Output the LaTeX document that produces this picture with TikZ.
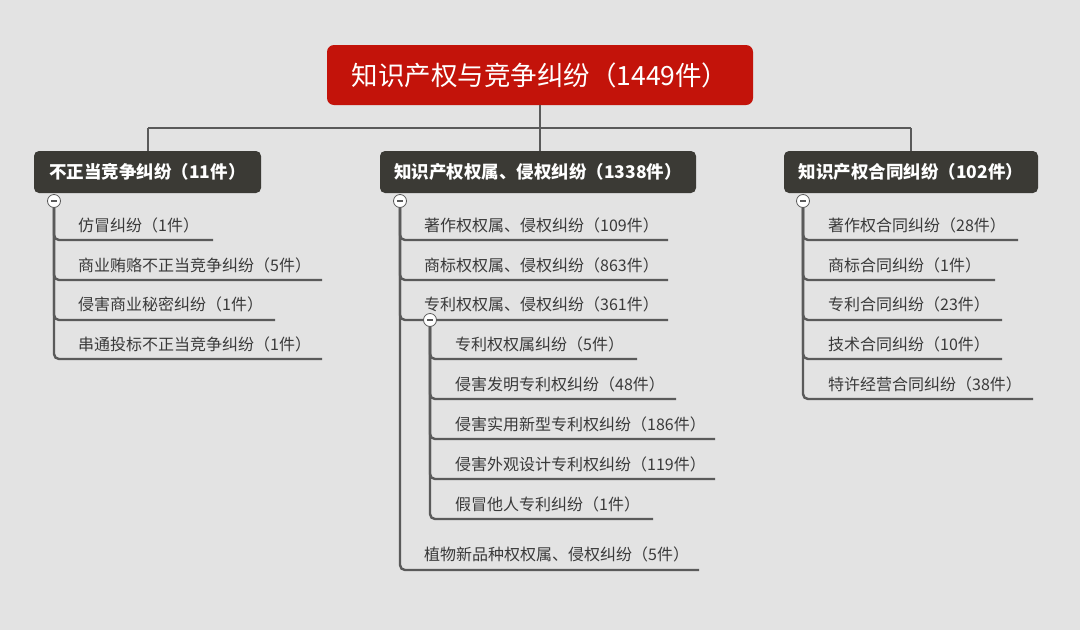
\documentclass[tikz,border=0pt]{standalone}
\usepackage{fontspec}
\setmainfont{Noto Sans CJK SC}
\definecolor{bgc}{HTML}{E3E3E3}
\definecolor{rootred}{HTML}{C3130A}
\definecolor{catdark}{HTML}{3B3A35}
\definecolor{linec}{HTML}{5A5A5A}
\definecolor{leaftext}{HTML}{3A3A3A}
\begin{document}
\begin{tikzpicture}[x=1pt,y=-1pt,
  conn/.style={draw=linec,line width=2.4pt,rounded corners=5pt},
  rootbox/.style={fill=rootred,rounded corners=7pt,minimum width=426pt,minimum height=60pt,text=white,font=\fontsize{26.5}{30}\selectfont,inner sep=0pt},
  catbox/.style={fill=catdark,rounded corners=5pt,minimum height=42pt,text=white,font=\bfseries\fontsize{17.5}{20}\selectfont,inner sep=0pt},
  leaf/.style={anchor=base west,text=leaftext,font=\fontsize{16}{18}\selectfont,inner sep=0pt},
  toggle/.style={circle,fill=white,draw=linec,line width=0.8pt,minimum size=13pt,inner sep=0pt},
  minusline/.style={draw=linec,line width=1.6pt}
]
\fill[bgc] (0,0) rectangle (1080,630);
\useasboundingbox (0,0) rectangle (1080,630);

% root and categories
\node[rootbox] (root) at (540,75) {知识产权与竞争纠纷（1449件）};
\node[catbox,minimum width=227pt] (c1) at (147.5,172) {不正当竞争纠纷（11件）};
\node[catbox,minimum width=316pt] (c2) at (538,172) {知识产权权属、侵权纠纷（1338件）};
\node[catbox,minimum width=254pt] (c3) at (911,172) {知识产权合同纠纷（102件）};
\coordinate (bus) at (540,128);
\draw[conn,rounded corners=0pt] (root.south) -- (root.south |- bus);
\draw[conn,rounded corners=0pt] (148,128) -- (911,128);
\draw[conn,rounded corners=0pt] (148,128) -- (c1.north -| 148,0);
\draw[conn,rounded corners=0pt] (540,128) -- (c2.north -| 540,0);
\draw[conn,rounded corners=0pt] (911,128) -- (c3.north -| 911,0);

% toggle points
\coordinate (k1) at (54,201);
\coordinate (k2) at (400,201);
\coordinate (k3) at (803,201);
\coordinate (k4) at (430,320);

% left branch
\node[leaf] (a1) at (78,231) {仿冒纠纷（1件）};
\node[leaf] (a2) at (78,271) {商业贿赂不正当竞争纠纷（5件）};
\node[leaf] (a3) at (78,310) {侵害商业秘密纠纷（1件）};
\node[leaf] (a4) at (78,350) {串通投标不正当竞争纠纷（1件）};
\coordinate (ua1) at (213,240);
\coordinate (ua2) at (322,280);
\coordinate (ua3) at (275,320);
\coordinate (ua4) at (322,359);
\foreach \u in {ua1,ua2,ua3,ua4} \draw[conn] (k1) |- (\u);

% middle branch
\node[leaf] (b1) at (424,231) {著作权权属、侵权纠纷（109件）};
\node[leaf] (b2) at (424,271) {商标权权属、侵权纠纷（863件）};
\node[leaf] (b3) at (424,310) {专利权权属、侵权纠纷（361件）};
\node[leaf] (b4) at (424,560) {植物新品种权权属、侵权纠纷（5件）};
\coordinate (ub1) at (668,240);
\coordinate (ub2) at (668,280);
\coordinate (ub3) at (668,320);
\coordinate (ub4) at (699,570);
\foreach \u in {ub1,ub2,ub3,ub4} \draw[conn] (k2) |- (\u);

% patent sub-branch
\node[leaf] (p1) at (455,350) {专利权权属纠纷（5件）};
\node[leaf] (p2) at (455,390) {侵害发明专利权纠纷（48件）};
\node[leaf] (p3) at (455,430) {侵害实用新型专利权纠纷（186件）};
\node[leaf] (p4) at (455,470) {侵害外观设计专利权纠纷（119件）};
\node[leaf] (p5) at (455,510) {假冒他人专利纠纷（1件）};
\coordinate (up1) at (637,359);
\coordinate (up2) at (676,399);
\coordinate (up3) at (715,439);
\coordinate (up4) at (715,479);
\coordinate (up5) at (653,519);
\foreach \u in {up1,up2,up3,up4,up5} \draw[conn] (k4) |- (\u);

% right branch
\node[leaf] (r1) at (828,231) {著作权合同纠纷（28件）};
\node[leaf] (r2) at (828,271) {商标合同纠纷（1件）};
\node[leaf] (r3) at (828,310) {专利合同纠纷（23件）};
\node[leaf] (r4) at (828,350) {技术合同纠纷（10件）};
\node[leaf] (r5) at (828,390) {特许经营合同纠纷（38件）};
\coordinate (ur1) at (1018,240);
\coordinate (ur2) at (995,280);
\coordinate (ur3) at (1002,320);
\coordinate (ur4) at (1002,359);
\coordinate (ur5) at (1033,399);
\foreach \u in {ur1,ur2,ur3,ur4,ur5} \draw[conn] (k3) |- (\u);

% toggles
\foreach \k/\n in {k1/t1,k2/t2,k3/t3,k4/t4}{
  \node[toggle] (\n) at (\k) {};
  \draw[minusline] ([xshift=-3pt]\n.center) -- ([xshift=3pt]\n.center);
}
\end{tikzpicture}
\end{document}
